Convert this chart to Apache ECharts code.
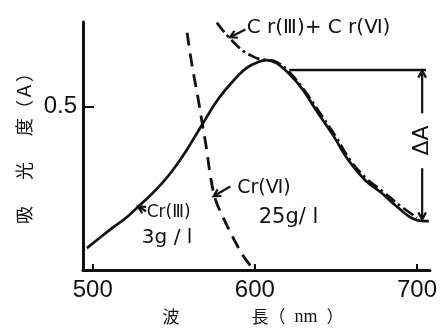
<!DOCTYPE html>
<html><head><meta charset="utf-8">
<script src="https://cdn.jsdelivr.net/npm/echarts@6/dist/echarts.min.js"></script>
<style>html,body{margin:0;padding:0;background:#fff}#c{width:440px;height:333px}</style>
</head><body><div id="c"></div>
<script>
// ---- data (wavelength nm, absorbance A) ----
const xTicks = [500, 600, 700];
const yTicks = [0.5];

const cr3Wavelength = [496.4, 504.2, 512.1, 520.6, 528.5, 535.8, 542.4, 549.1, 557.6, 566.7, 577.0, 587.3, 595.2, 602.4, 607.3, 613.3, 621.2, 629.7, 637.6, 648.5, 657.6, 667.9, 678.2, 687.9, 700.0, 707.3];
const cr3Absorbance = [0.067, 0.098, 0.129, 0.160, 0.196, 0.230, 0.264, 0.304, 0.365, 0.439, 0.521, 0.583, 0.620, 0.638, 0.643, 0.634, 0.601, 0.552, 0.491, 0.411, 0.337, 0.276, 0.236, 0.193, 0.153, 0.150];

const mixWavelength = [576.5, 580.0, 584.2, 589.1, 593.3, 598.2, 602.4, 607.3, 613.3, 621.2, 630.3, 638.8, 649.7, 658.8, 669.1, 679.4, 689.1, 700.0];
const mixAbsorbance = [0.758, 0.736, 0.712, 0.687, 0.669, 0.656, 0.647, 0.644, 0.638, 0.607, 0.552, 0.491, 0.411, 0.337, 0.279, 0.239, 0.199, 0.160];

const cr6Wavelength = [558.2, 561.2, 564.8, 567.9, 570.3, 572.7, 575.8, 581.2, 587.3, 593.3, 599.4];
const cr6Absorbance = [0.727, 0.629, 0.531, 0.439, 0.368, 0.285, 0.215, 0.153, 0.092, 0.040, 0.000];

const zip = (xs, ys) => xs.map((x, i) => [x, ys[i]]);

const chart = echarts.init(document.getElementById('c'), null, {renderer: 'canvas'});
const BLACK = '#111';
const cjk = '"Noto Sans CJK JP", sans-serif';
const num = '"Liberation Sans", Arial, sans-serif';
const ann = '"DejaVu Sans", sans-serif';

chart.setOption({
  animation: false,
  backgroundColor: '#fff',
  grid: {left: 83, right: 4, top: 22, bottom: 63, containLabel: false},
  xAxis: {
    type: 'value', min: 494, max: 708,
    name: '{a|波　　　　 長（}{b|  nm  }{a|）}', nameLocation: 'middle', nameGap: 38,
    nameTextStyle: {fontFamily: cjk, fontSize: 17, color: BLACK, padding: [0, 7, 0, 0],
      rich: {a: {fontFamily: cjk, fontSize: 17, color: BLACK},
             b: {fontFamily: '"Liberation Serif", serif', fontSize: 18, color: BLACK}}},
    axisLine: {show: true, lineStyle: {color: BLACK, width: 3}},
    axisTick: {show: true, inside: true, length: 6, customValues: xTicks, lineStyle: {color: BLACK, width: 2}},
    axisLabel: {customValues: xTicks, fontFamily: num, fontSize: 24, color: BLACK, margin: 8},
    splitLine: {show: false}
  },
  yAxis: {
    type: 'value', min: 0, max: 0.76,
    name: '吸　  光　  度（Ａ）', nameLocation: 'middle', nameGap: 46, nameRotate: 90,
    nameTextStyle: {fontFamily: cjk, fontSize: 18, color: BLACK, padding: [0, 0, 0, 4]},
    axisLine: {show: true, lineStyle: {color: BLACK, width: 3}},
    axisTick: {show: true, inside: true, length: 11, customValues: yTicks, lineStyle: {color: BLACK, width: 2}},
    axisLabel: {customValues: yTicks, fontFamily: num, fontSize: 24, color: BLACK, margin: 6, formatter: v => String(v)},
    splitLine: {show: false}
  },
  series: [
    {name: 'Cr(Ⅲ) 3g/l', type: 'line', data: zip(cr3Wavelength, cr3Absorbance), smooth: 0.4, symbol: 'none',
      lineStyle: {color: BLACK, width: 2.7}},
    {name: 'Cr(Ⅲ)+Cr(Ⅵ)', type: 'line', data: zip(mixWavelength, mixAbsorbance), smooth: 0.4, symbol: 'none',
      lineStyle: {color: BLACK, width: 2.6, type: [12, 4, 2.5, 4]}},
    {name: 'Cr(Ⅵ) 25g/l', type: 'line', data: zip(cr6Wavelength, cr6Absorbance), smooth: 0.4, symbol: 'none',
      lineStyle: {color: BLACK, width: 2.8, type: [13, 8]}}
  ]
});

// ---- annotations (anchored in data units) ----
const P = (p) => chart.convertToPixel({gridIndex: 0}, p);
function arrow(from, to) {
  const a = P(from), b = P(to);
  const ang = Math.atan2(b[1] - a[1], b[0] - a[0]);
  const L = 8, s = 0.5;
  const h1 = [b[0] - L * Math.cos(ang - s), b[1] - L * Math.sin(ang - s)];
  const h2 = [b[0] - L * Math.cos(ang + s), b[1] - L * Math.sin(ang + s)];
  return [
    {type: 'polyline', shape: {points: [a, b]}, style: {stroke: BLACK, lineWidth: 2.2, fill: null}},
    {type: 'polyline', shape: {points: [h1, b, h2]}, style: {stroke: BLACK, lineWidth: 2.2, fill: null}}
  ];
}
function text(str, at, size) {
  const p = P(at);
  return {type: 'text', x: p[0], y: p[1],
    style: {text: str, fill: BLACK, font: size + 'px ' + ann, textVerticalAlign: 'middle', textAlign: 'left'}};
}
const hl = [P([621.2, 0.613]), P([705.5, 0.613])];
const dA = P([703.2, 0.397]);
const g = [].concat(
  [{type: 'polyline', shape: {points: hl}, style: {stroke: BLACK, lineWidth: 2.6, fill: null}}],
  arrow([703.2, 0.480], [703.2, 0.611]),
  arrow([703.2, 0.312], [703.2, 0.155]),
  arrow([594.2, 0.737], [584.6, 0.713]),
  arrow([532.9, 0.180], [528.0, 0.195]),
  arrow([584.8, 0.256], [574.5, 0.226]),
  [
    text('C r(Ⅲ)+ C r(Ⅵ)', [595.0, 0.742], 20),
    text('Cr(Ⅲ)', [533.3, 0.175], 17),
    text('3g / l', [530.3, 0.098], 20),
    text('Cr(Ⅵ)', [589.1, 0.252], 19),
    text('25g/ l', [602.4, 0.160], 21),
    {type: 'text', x: dA[0], y: dA[1], rotation: Math.PI / 2,
      style: {text: 'ΔA', fill: BLACK, font: '22px ' + ann, textAlign: 'center', textVerticalAlign: 'middle'}}
  ]
);
chart.setOption({graphic: g});
</script></body></html>
